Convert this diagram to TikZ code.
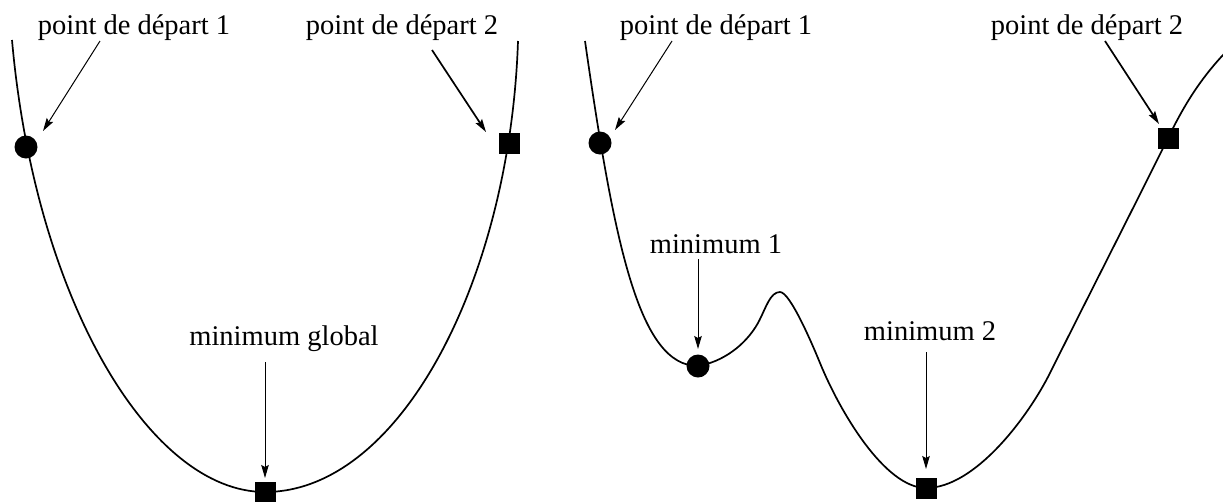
\documentclass[tikz,border=0pt]{standalone}
\usepackage{fontspec}
\setmainfont{Liberation Serif}
\usetikzlibrary{arrows.meta}
\begin{document}
\begin{tikzpicture}[x=1pt,y=-1pt,
  curve/.style={line width=1.7pt, line join=round},
  lbl/.style={anchor=base, inner sep=0pt, font=\fontsize{28.5}{34}\selectfont},
  ptr/.style={line width=1pt, -{Stealth[length=13pt,width=7.5pt,inset=2pt]}},
  ptrb/.style={line width=1.7pt, -{Stealth[length=13pt,width=7.5pt,inset=2pt]}},
  dot/.style={circle, fill, inner sep=0pt, minimum size=23pt},
  sq/.style={rectangle, fill, inner sep=0pt, minimum size=21pt}]
\useasboundingbox (0,0) rectangle (1223,501);
\clip (0,0) rectangle (1223,501);

% left panel curve
\draw[curve] (12,40) .. controls (35,300) and (150,492) .. (265,492)
                     .. controls (400,492) and (510,280) .. (518,41);

% right panel curve
\draw[curve] (585,41) .. controls (615,250) and (640,366) .. (698,366)
             .. controls (722,362) and (745,346) .. (758,323)
             .. controls (766,308) and (770,292) .. (780,292)
             .. controls (790,292) and (812,343.5) .. (820,363)
             .. controls (840,412) and (885,488) .. (926,488)
             .. controls (975,488) and (1028,417) .. (1050,373)
             .. controls (1090,293) and (1150,175) .. (1168,138)
             .. controls (1182,110) and (1200,75) .. (1240,38);

% markers
\node[dot] (a1) at (26,147) {};
\node[sq]  (a2) at (509,143) {};
\node[sq]  (ag) at (265,492) {};
\node[dot] (b1) at (600,143) {};
\node[sq]  (b2) at (1168,138) {};
\node[dot] (m1) at (698,366) {};
\node[sq]  (m2) at (926,488) {};

% labels
\node[lbl] (ta1) at (134,34) {point de départ 1};
\node[lbl] (ta2) at (402,34) {point de départ 2};
\node[lbl] (tag) at (284,345) {minimum global};
\node[lbl] (tb1) at (716,34) {point de départ 1};
\node[lbl] (tb2) at (1087,34) {point de départ 2};
\node[lbl] (tm1) at (716,253) {minimum 1};
\node[lbl] (tm2) at (930,340) {minimum 2};

% arrow ends
\coordinate (sa1) at (100,41);  \coordinate (ea1) at (43,131);
\coordinate (sa2) at (432,50);  \coordinate (ea2) at (486,132);
\coordinate (sag) at (265,362); \coordinate (eag) at (265,478);
\coordinate (sb1) at (672,41);  \coordinate (eb1) at (615,130);
\coordinate (sb2) at (1105,41); \coordinate (eb2) at (1159,124);
\coordinate (sm1) at (698,259); \coordinate (em1) at (698,349);
\coordinate (sm2) at (926,352); \coordinate (em2) at (926,469);

\draw[ptr]  (sa1) -- (ea1);
\draw[ptrb] (sa2) -- (ea2);
\draw[ptr]  (sag) -- (eag);
\draw[ptr]  (sb1) -- (eb1);
\draw[ptrb] (sb2) -- (eb2);
\draw[ptr]  (sm1) -- (em1);
\draw[ptr]  (sm2) -- (em2);
\end{tikzpicture}
\end{document}
